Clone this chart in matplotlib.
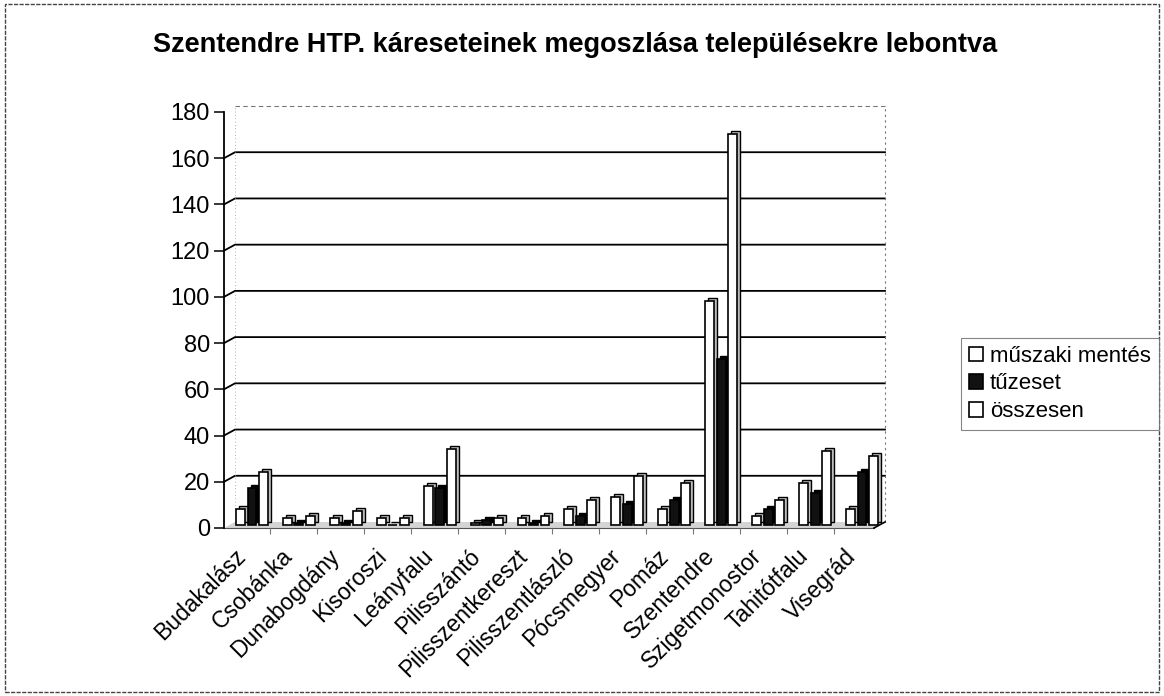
import matplotlib
matplotlib.use("Agg")
import matplotlib.pyplot as plt
from matplotlib.patches import Patch, Rectangle
from matplotlib.transforms import ScaledTranslation
import numpy as np

categories = ["Budakalász", "Csobánka", "Dunabogdány", "Kisoroszi", "Leányfalu",
              "Pilisszántó", "Pilisszentkereszt", "Pilisszentlászló", "Pócsmegyer",
              "Pomáz", "Szentendre", "Szigetmonostor", "Tahitótfalu", "Visegrád"]
muszaki = [7, 3, 3, 3, 17, 1, 3, 7, 12, 7, 97, 4, 18, 7]
tuzeset = [16, 1, 1, 0, 16, 2, 1, 4, 9, 11, 72, 7, 14, 23]
osszesen = [23, 4, 6, 3, 33, 3, 4, 11, 21, 18, 169, 11, 32, 30]
series_names = ["műszaki mentés", "tűzeset", "összesen"]
yticks = list(range(0, 181, 20))
title = "Szentendre HTP. káreseteinek megoszlása településekre lebontva"

plt.rcParams['font.family'] = ['Liberation Sans', 'DejaVu Sans']

W, H = 1164, 696
fig = plt.figure(figsize=(W / 100, H / 100), dpi=100)
ax = fig.add_axes([224 / W, 1 - 528 / H, (874 - 224) / W, (528 - 112) / H])

xmin, xmax = -0.49, 13.363
x = np.arange(len(categories))

# ticks first (set_xticks may widen limits), limits afterwards
ax.set_yticks(yticks)
ax.set_yticklabels([str(v) for v in yticks], fontsize=17)
ax.set_xticks(x)
ax.set_xticks(x[:-1] + 0.5, minor=True)
ax.set_xticklabels(categories, fontsize=16.5, rotation=45, ha="right",
                   va="top", rotation_mode="anchor")
ax.set_xlim(xmin, xmax)
ax.set_ylim(0, 180)

ax_w_px = (874 - 224)
ax_h_px = (528 - 112)
ux = ax_w_px / (xmax - xmin)   # px per x unit
uy = ax_h_px / 180.0           # px per y unit

# back-wall offset (3D depth)
bdx, bdy = 11 / ux, 6 / uy
# bar plane offset
pdx, pdy = 5 / ux, 3 / uy
# extrusion of each bar
edx, edy = 3 / ux, 3 / uy

# floor
ax.fill([xmin, xmax, xmax + bdx, xmin + bdx], [0, 0, bdy, bdy],
        color="#d4d4d4", zorder=1, clip_on=False, lw=0)
ax.plot([xmin, xmax], [0, 0], color="#555555", lw=0.8, zorder=1.5, clip_on=False)
ax.plot([xmax, xmax + bdx], [0, bdy], color="black", lw=1.2, zorder=1.5, clip_on=False)

# back wall gridlines
for v in yticks[1:-1]:
    ax.plot([xmin, xmin + bdx, xmax + bdx], [v, v + bdy, v + bdy],
            color="black", lw=1.3, zorder=1, clip_on=False)
# back wall top and right border (dashed)
ax.plot([xmin + bdx, xmax + bdx], [180 + bdy, 180 + bdy], color="#777777",
        lw=0.8, ls=(0, (4, 3)), zorder=1, clip_on=False)
ax.plot([xmax + bdx, xmax + bdx], [bdy, 180 + bdy], color="#777777",
        lw=0.8, ls=(0, (2, 3)), zorder=1, clip_on=False)
ax.plot([xmin + bdx, xmin + bdx], [bdy, 180 + bdy], color="#999999",
        lw=0.6, ls=(0, (1, 3)), zorder=1, clip_on=False)

# bars
slot = 0.245
fw = 0.19
series = [muszaki, tuzeset, osszesen]
faces = ["white", "#111111", "white"]
sides = ["#bdbdbd", "#000000", "#bdbdbd"]
z = 2
for i in range(len(categories)):
    for s in range(3):
        xc = x[i] + (s - 1) * slot + pdx
        val = series[s][i]
        ax.bar(xc + edx, val, width=fw, bottom=pdy + edy, color=sides[s],
               edgecolor="black", lw=1.0, zorder=z, clip_on=False)
        z += 1
        ax.bar(xc, val, width=fw, bottom=pdy, color=faces[s],
               edgecolor="black", lw=1.2, zorder=z, clip_on=False)
        z += 1

ax.set_xlim(xmin, xmax)
ax.set_ylim(0, 180)

# axes styling
for sp in ["top", "right", "bottom"]:
    ax.spines[sp].set_visible(False)
ax.spines["left"].set_linewidth(1.3)
ax.tick_params(axis="y", length=7, width=1.1, pad=3)
ax.tick_params(axis="x", which="major", length=0, pad=12)
ax.tick_params(axis="x", which="minor", length=4, width=0.8, color="#777777")
shift = ScaledTranslation(-13 / 100, 0, fig.dpi_scale_trans)
for lab in ax.get_xticklabels():
    lab.set_transform(lab.get_transform() + shift)
ax.patch.set_visible(False)

fig.text(575 / W, 1 - 45 / H, title, fontsize=19.5, fontweight="bold",
         ha="center", va="center")

handles = [Patch(facecolor=faces[k], edgecolor="black", lw=1.2) for k in range(3)]
leg = fig.legend(handles, series_names, loc="upper left",
                 bbox_to_anchor=(961 / W, 1 - 338 / H), fontsize=16,
                 frameon=True, fancybox=False, borderaxespad=0,
                 handlelength=0.65, handleheight=0.65, handletextpad=0.3,
                 labelspacing=0.3, borderpad=0.35)
leg.get_frame().set_edgecolor("#666666")
leg.get_frame().set_linewidth(0.8)

fig.patches.append(Rectangle((5 / W, 4 / H), (1159 - 5) / W, (692 - 4) / H,
                             transform=fig.transFigure, fill=False,
                             edgecolor="#444444", lw=1.0, ls=(0, (3, 1))))

fig.savefig("out.png", dpi=100)
